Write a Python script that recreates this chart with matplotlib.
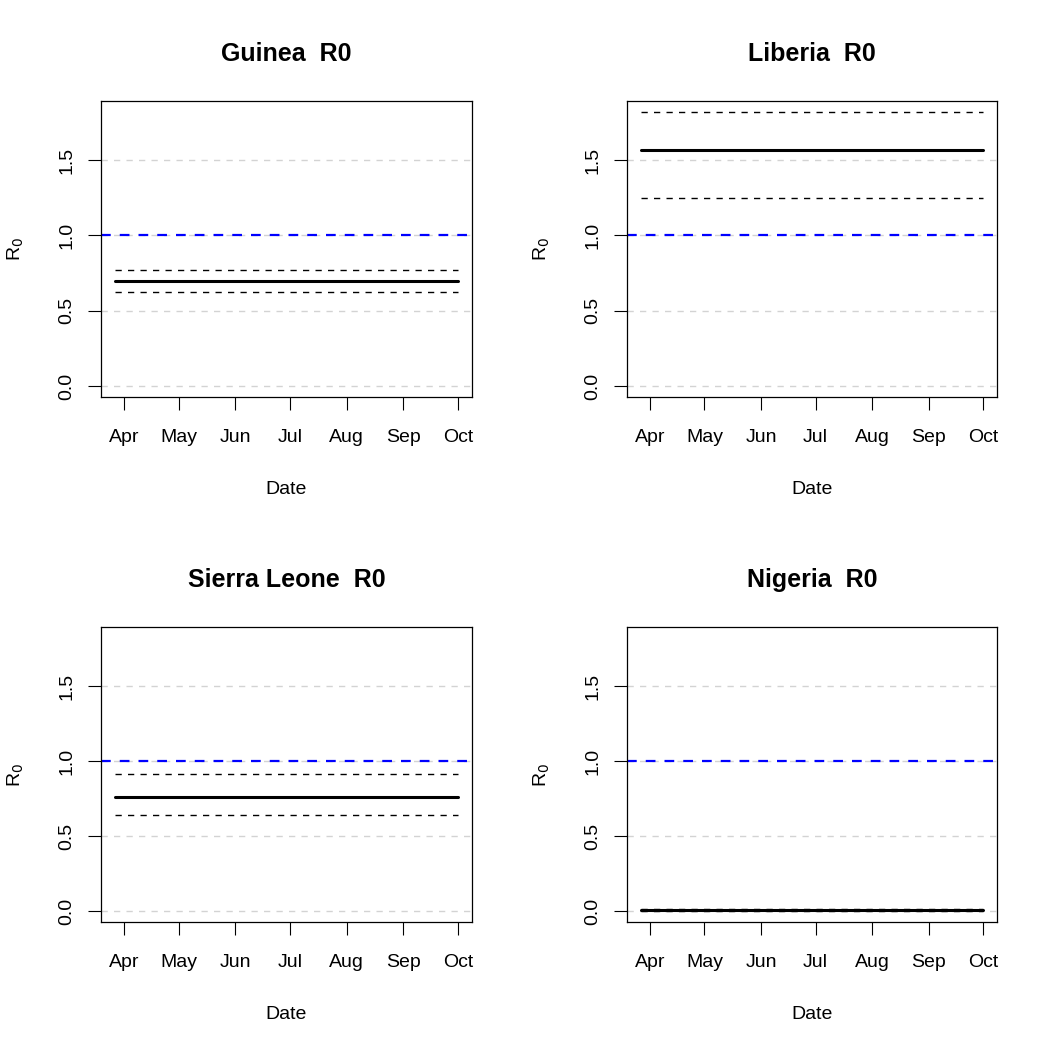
import datetime as dt

import matplotlib
matplotlib.use("Agg")
import matplotlib.pyplot as plt
import matplotlib.dates as mdates

plt.rcParams["font.family"] = ["Liberation Sans", "DejaVu Sans"]
plt.rcParams["lines.scale_dashes"] = False

# R0 estimates per country: mean and lower / upper bounds
countries = ["Guinea", "Liberia", "Sierra Leone", "Nigeria"]
r0_mean = [0.695, 1.569, 0.758, 0.008]
r0_lower = [0.622, 1.247, 0.642, 0.003]
r0_upper = [0.773, 1.820, 0.911, 0.015]

dates = [dt.date(2014, 3, 27), dt.date(2014, 10, 1)]
grid_levels = [0.0, 0.5, 1.0, 1.5]
threshold = 1.0

W = 1050.0
# panel boxes in pixels: left, top, right, bottom
boxes = [
    (101, 101, 472, 397),
    (627, 101, 997, 397),
    (101, 627, 472, 922),
    (627, 627, 997, 922),
]

fig = plt.figure(figsize=(10.5, 10.5), dpi=100)

ymax = max(r0_upper)
xnum = mdates.date2num(dates)
xpad = (xnum[1] - xnum[0]) * 0.04

for i, name in enumerate(countries):
    l, t, r, b = boxes[i]
    ax = fig.add_axes([l / W, 1 - b / W, (r - l) / W, (b - t) / W])

    for g in grid_levels:
        ax.axhline(g, color="lightgray", lw=1.0, dashes=(4.5, 4.5), zorder=1)
    ax.axhline(threshold, color="blue", lw=1.6, dashes=(7, 6.5), zorder=2)

    ax.plot(dates, [r0_mean[i]] * len(dates), color="black", lw=2.2,
            solid_capstyle="round", zorder=4)
    ax.plot(dates, [r0_lower[i]] * len(dates), color="black", lw=1.0,
            dashes=(4.5, 4.5), zorder=3)
    ax.plot(dates, [r0_upper[i]] * len(dates), color="black", lw=1.0,
            dashes=(4.5, 4.5), zorder=3)

    ax.set_xlim(xnum[0] - xpad, xnum[1] + xpad)
    ax.set_ylim(-ymax * 0.04, ymax * 1.04)

    ax.xaxis.set_major_locator(mdates.MonthLocator())
    ax.xaxis.set_major_formatter(mdates.DateFormatter("%b"))
    ax.set_yticks(grid_levels)
    ax.set_yticklabels(["0.0", "0.5", "1.0", "1.5"], rotation=90, va="center")

    ax.tick_params(direction="out", length=9.5, width=0.8, labelsize=14)
    ax.tick_params(axis="x", pad=13.5)
    ax.tick_params(axis="y", pad=9)
    for s in ax.spines.values():
        s.set_linewidth(0.9)

    ax.set_title(name + "  R0", fontsize=18, fontweight="bold", pad=28.5)
    ax.set_xlabel("Date", fontsize=14, labelpad=25)
    ax.set_ylabel("R$_0$", fontsize=14, labelpad=23)

fig.savefig("out.png", dpi=100)
